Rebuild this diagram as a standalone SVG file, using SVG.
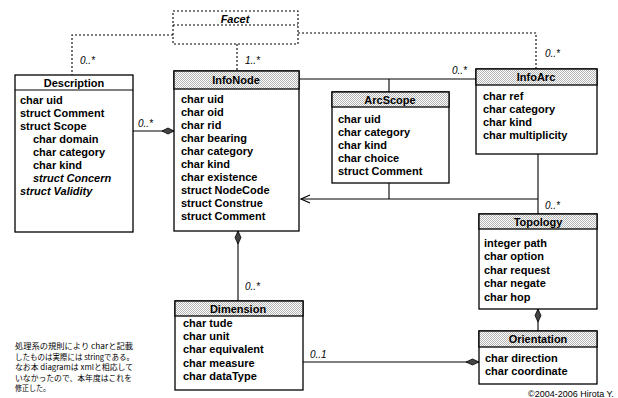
<svg xmlns="http://www.w3.org/2000/svg" width="618" height="398" viewBox="0 0 618 398">
<defs>
<pattern id="stip" width="2" height="2" patternUnits="userSpaceOnUse">
<rect width="2" height="2" fill="#ffffff"/>
<rect width="1" height="1" fill="#b4b4b4"/>
<rect x="1" y="1" width="1" height="1" fill="#b4b4b4"/>
</pattern>
<marker id="open" markerWidth="12" markerHeight="10" refX="10" refY="5" orient="auto" markerUnits="userSpaceOnUse">
<path d="M1,1 L10,5 L1,9" fill="none" stroke="#000" stroke-width="1.2"/>
</marker>
</defs>
<style>
text{font-family:"Liberation Sans",Arial,sans-serif;fill:#000}
.box{fill:#fff;stroke:#000;stroke-width:1.3}
.hdr{fill:url(#stip);stroke:#000;stroke-width:1.3}
.ttl{font-size:11px;font-weight:bold;text-anchor:middle}
.at{font-size:11px;font-weight:bold}
.it{font-style:italic}
.ln{fill:none;stroke:#000;stroke-width:1.1}
.dot{fill:none;stroke:#000;stroke-width:1.1;stroke-dasharray:2,2}
.lbl{font-size:10px;font-style:italic}
.dia{fill:#444;stroke:#000;stroke-width:0.8}
.jp{font-family:"Noto Sans CJK JP","Liberation Sans",sans-serif;font-size:7.5px}
</style>
<rect width="618" height="398" fill="#fff"/>

<g id="connectors">
<polyline class="dot" points="173,35 72,35 72,75"/>
<line class="dot" x1="237" y1="44" x2="237" y2="71"/>
<polyline class="dot" points="298,33 536,33 536,69"/>
<line class="ln" x1="133" y1="131" x2="174" y2="131"/>
<path class="dia" d="M162,131 L168,128 L174,131 L168,134 Z"/>
<line class="ln" x1="299" y1="79" x2="476" y2="79"/>
<line class="ln" x1="389" y1="79" x2="389" y2="92"/>
<line class="ln" x1="389" y1="183" x2="389" y2="199"/>
<line class="ln" x1="538" y1="154" x2="538" y2="214"/>
<line class="ln" x1="538" y1="199" x2="301" y2="199" marker-end="url(#open)"/>
<line class="ln" x1="238" y1="231" x2="238" y2="301"/>
<path class="dia" d="M238,231 L241,237.5 L238,244 L235,237.5 Z"/>
<line class="ln" x1="538" y1="309" x2="538" y2="331"/>
<path class="dia" d="M538,309 L541,315.5 L538,322 L535,315.5 Z"/>
<line class="ln" x1="303" y1="362" x2="479" y2="362"/>
<path class="dia" d="M466,362 L472.5,359 L479,362 L472.5,365 Z"/>
<text class="lbl" x="80" y="64">0..*</text>
<text class="lbl" x="245" y="64">1..*</text>
<text class="lbl" x="545" y="57">0..*</text>
<text class="lbl" x="452" y="74">0..*</text>
<text class="lbl" x="138" y="127">0..*</text>
<text class="lbl" x="545" y="209">0..*</text>
<text class="lbl" x="245" y="290">0..*</text>
<text class="lbl" x="310" y="358">0..1</text>
</g>

<g id="Facet">
<rect x="173" y="11" width="125" height="33" fill="#fff" stroke="#000" stroke-width="1.1" stroke-dasharray="2,2"/>
<line class="dot" x1="173" y1="25" x2="298" y2="25"/>
<text class="ttl it" x="235" y="23">Facet</text>
</g>

<g id="Description">
<rect class="box" x="15" y="75" width="118" height="157"/>
<line class="ln" x1="15" y1="90" x2="133" y2="90"/>
<text class="ttl" x="74" y="87">Description</text>
<text class="at" x="20" y="104">char uid</text>
<text class="at" x="20" y="117">struct Comment</text>
<text class="at" x="20" y="130">struct Scope</text>
<text class="at" x="33" y="143">char domain</text>
<text class="at" x="33" y="156">char category</text>
<text class="at" x="33" y="169">char kind</text>
<text class="at it" x="33" y="182">struct Concern</text>
<text class="at it" x="20" y="195">struct Validity</text>
</g>

<g id="InfoNode">
<rect class="box" x="174" y="71" width="125" height="160"/>
<rect class="hdr" x="174" y="71" width="125" height="18"/>
<text class="ttl" x="236" y="84">InfoNode</text>
<text class="at" x="181" y="103">char uid</text>
<text class="at" x="181" y="116">char oid</text>
<text class="at" x="181" y="129">char rid</text>
<text class="at" x="181" y="142">char bearing</text>
<text class="at" x="181" y="155">char category</text>
<text class="at" x="181" y="168">char kind</text>
<text class="at" x="181" y="181">char existence</text>
<text class="at" x="181" y="194">struct NodeCode</text>
<text class="at" x="181" y="207">struct Construe</text>
<text class="at" x="181" y="220">struct Comment</text>
</g>

<g id="ArcScope">
<rect class="box" x="332" y="92" width="117" height="91"/>
<rect class="hdr" x="332" y="92" width="117" height="15"/>
<text class="ttl" x="390" y="104">ArcScope</text>
<text class="at" x="338" y="123">char uid</text>
<text class="at" x="338" y="136">char category</text>
<text class="at" x="338" y="149">char kind</text>
<text class="at" x="338" y="162">char choice</text>
<text class="at" x="338" y="175">struct Comment</text>
</g>

<g id="InfoArc">
<rect class="box" x="476" y="69" width="121" height="85"/>
<rect class="hdr" x="476" y="69" width="121" height="16"/>
<text class="ttl" x="536" y="81">InfoArc</text>
<text class="at" x="483" y="100">char ref</text>
<text class="at" x="483" y="113">char category</text>
<text class="at" x="483" y="126">char kind</text>
<text class="at" x="483" y="139">char multiplicity</text>
</g>

<g id="Topology">
<rect class="box" x="479" y="214" width="118" height="95"/>
<rect class="hdr" x="479" y="214" width="118" height="15"/>
<text class="ttl" x="538" y="226">Topology</text>
<text class="at" x="484" y="247">integer path</text>
<text class="at" x="484" y="260">char option</text>
<text class="at" x="484" y="274">char request</text>
<text class="at" x="484" y="287">char negate</text>
<text class="at" x="484" y="301">char hop</text>
</g>

<g id="Orientation">
<rect class="box" x="479" y="331" width="118" height="53"/>
<rect class="hdr" x="479" y="331" width="118" height="16"/>
<text class="ttl" x="538" y="343">Orientation</text>
<text class="at" x="485" y="362">char direction</text>
<text class="at" x="485" y="375">char coordinate</text>
</g>

<g id="Dimension">
<rect class="box" x="175" y="301" width="128" height="89"/>
<rect class="hdr" x="175" y="301" width="128" height="15"/>
<text class="ttl" x="238" y="313">Dimension</text>
<text class="at" x="183" y="327">char tude</text>
<text class="at" x="183" y="340">char unit</text>
<text class="at" x="183" y="353">char equivalent</text>
<text class="at" x="183" y="367">char measure</text>
<text class="at" x="183" y="380">char dataType</text>
</g>

<g id="note">
<text class="jp" x="15" y="349" textLength="118" lengthAdjust="spacingAndGlyphs">処理系の規則により charと記載</text>
<text class="jp" x="15" y="359.5" textLength="119" lengthAdjust="spacingAndGlyphs">したものは実際には stringである。</text>
<text class="jp" x="15" y="370" textLength="118" lengthAdjust="spacingAndGlyphs">なお本 diagramは xmlと相応して</text>
<text class="jp" x="15" y="380.5" textLength="117" lengthAdjust="spacingAndGlyphs">いなかったので、本年度はこれを</text>
<text class="jp" x="15" y="391" textLength="35" lengthAdjust="spacingAndGlyphs">修正した。</text>
<text x="528" y="397" style="font-size:9px">©2004-2006 Hirota Y.</text>
</g>
</svg>
